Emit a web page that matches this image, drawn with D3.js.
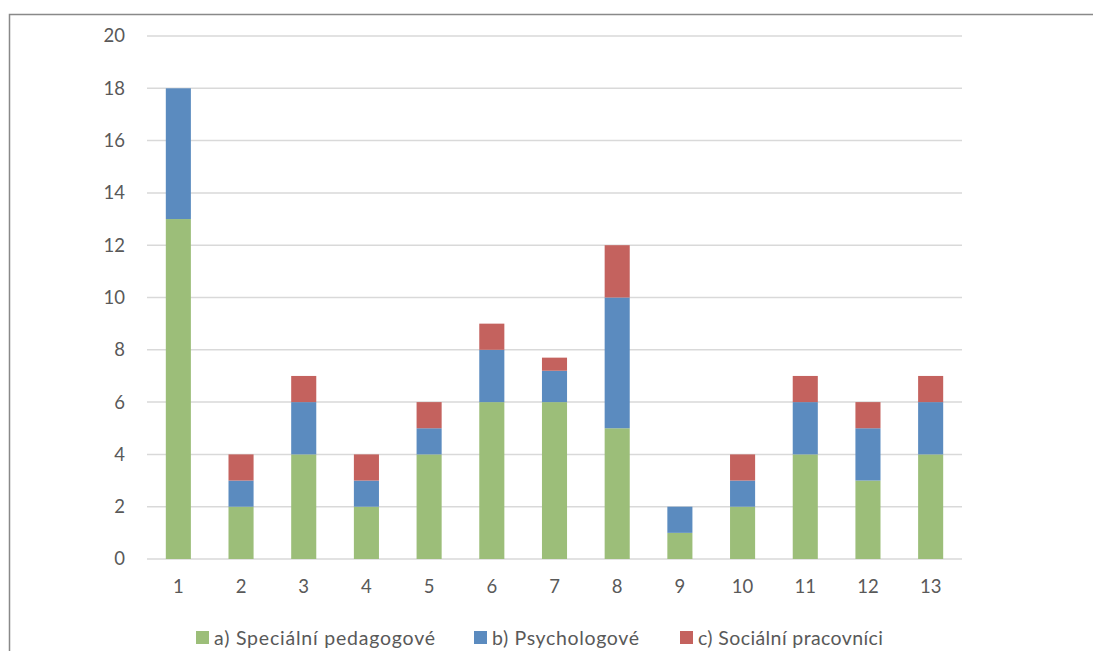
<!DOCTYPE html>
<html><head><meta charset="utf-8">
<script src="https://cdn.jsdelivr.net/npm/d3@7"></script>
<style>body{margin:0;background:#fff}svg{display:block}</style>
</head><body>
<svg id="c" width="1093" height="651"></svg>
<script>
const categories = ["1","2","3","4","5","6","7","8","9","10","11","12","13"];
const seriesNames = ["a) Speciální pedagogové","b) Psychologové","c) Sociální pracovníci"];
const specialni = [13,2,4,2,4,6,6,5,1,2,4,3,4];
const psychologove = [5,1,2,1,1,2,1.2,5,1,1,2,2,2];
const socialni = [0,1,1,1,1,1,0.5,2,0,1,1,1,1];
const yTicks = [0,2,4,6,8,10,12,14,16,18,20];
const colors = ["#9cbe79","#5b8bbf","#c4625e"];

const svg = d3.select("#c");
const font = "Lato, 'Open Sans', sans-serif";
svg.append("rect").attr("x",9.5).attr("y",14.5).attr("width",1100).attr("height",700)
  .attr("fill","none").attr("stroke","#898989").attr("stroke-width",1.5);

const x = d3.scaleBand().domain(categories).range([147,962]).paddingInner(0.6).paddingOuter(0.3);
const y = d3.scaleLinear().domain([0,20]).range([559,36]);

const grid = svg.append("g");
grid.selectAll("line").data(yTicks).join("line")
  .attr("x1",147).attr("x2",962).attr("y1",d=>y(d)).attr("y2",d=>y(d))
  .attr("stroke","#d9d9d9").attr("stroke-width",1.5);

const yAxis = svg.append("g").attr("transform","translate(147,0)")
  .call(d3.axisLeft(y).tickValues(yTicks).tickSize(0).tickPadding(22));
yAxis.select(".domain").remove();
yAxis.selectAll("text").attr("font-family",font).attr("font-size",18.5).attr("fill","#595959");

const xAxis = svg.append("g").attr("transform","translate(0,559)")
  .call(d3.axisBottom(x).tickSize(0).tickPadding(21));
xAxis.select(".domain").remove();
xAxis.selectAll("text").attr("font-family",font).attr("font-size",18.5).attr("fill","#595959");

const rows = categories.map((c,i)=>({cat:c, s0:specialni[i], s1:psychologove[i], s2:socialni[i]}));
const stacked = d3.stack().keys(["s0","s1","s2"])(rows);
svg.append("g").selectAll("g").data(stacked).join("g").attr("fill",(d,i)=>colors[i])
  .selectAll("rect").data(d=>d.filter(p=>p[1]>p[0])).join("rect")
  .attr("x",d=>x(d.data.cat)).attr("width",x.bandwidth())
  .attr("y",d=>y(d[1])).attr("height",d=>y(d[0])-y(d[1]));

const legX = [196,474,680];
const legW = [221,147,185];
const leg = svg.append("g");
seriesNames.forEach((n,i)=>{
  leg.append("rect").attr("x",legX[i]).attr("y",631).attr("width",13).attr("height",13).attr("fill",colors[i]);
  leg.append("text").attr("x",legX[i]+18).attr("y",645).text(n)
    .attr("textLength",legW[i]).attr("lengthAdjust","spacing")
    .attr("font-family",font).attr("font-size",19.5).attr("fill","#595959");
});
</script>
</body></html>
